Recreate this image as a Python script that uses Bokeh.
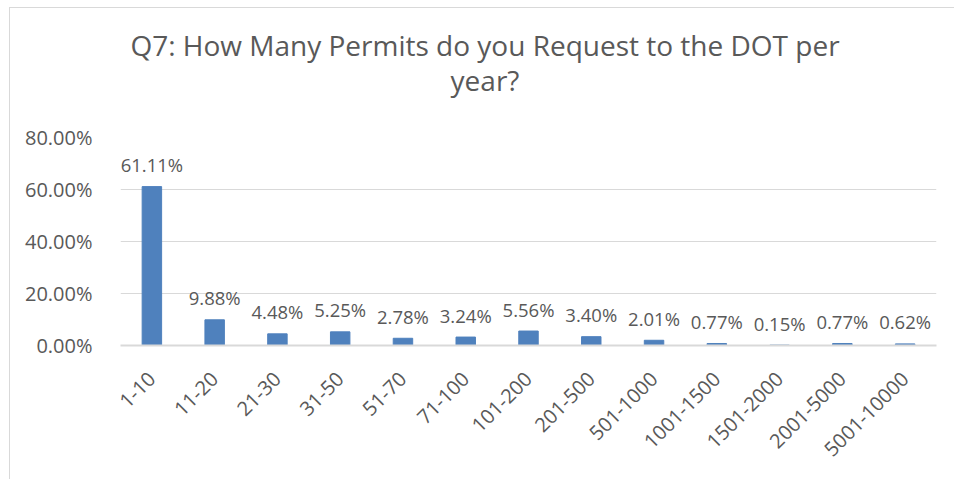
import math
from bokeh.plotting import figure
from bokeh.layouts import column
from bokeh.models import Range1d, FactorRange, Div, NumeralTickFormatter, ColumnDataSource, FixedTicker
from bokeh.core.properties import value
from bokeh.embed import file_html
from bokeh.resources import INLINE

categories = ["1-10", "11-20", "21-30", "31-50", "51-70", "71-100", "101-200",
              "201-500", "501-1000", "1001-1500", "1501-2000", "2001-5000", "5001-10000"]
shares = [61.11, 9.88, 4.48, 5.25, 2.78, 3.24, 5.56, 3.40, 2.01, 0.77, 0.15, 0.77, 0.62]
y_ticks = [0.0, 0.2, 0.4, 0.6, 0.8]
title_lines = ["Q7: How Many Permits do you Request to the DOT per", "year?"]

FONT = "Open Sans"
TXT = "#595959"
GRID = "#d9d9d9"
BAR = "#4F81BD"

src = ColumnDataSource(dict(
    cat=categories,
    val=[v / 100 for v in shares],
    lab=[f"{v:.2f}%" for v in shares],
))

title_div = Div(
    text="<br>".join(title_lines), width=944, height=100,
    styles={"font-family": "'Open Sans'", "font-size": "28px", "line-height": "35px",
            "color": TXT, "text-align": "center", "padding-top": "20px",
            "padding-left": "6px", "box-sizing": "border-box", "margin": "0"},
)

p = figure(width=944, height=371, output_backend="svg", toolbar_location=None, title=None,
           x_range=FactorRange(*categories), y_range=Range1d(0, 0.8),
           min_border_left=110, min_border_right=18, min_border_top=29, min_border_bottom=134)
p.outline_line_color = None

p.vbar(x="cat", top="val", width=0.31, source=src, fill_color=BAR, line_color=BAR)
p.text(x="cat", y="val", text="lab", source=src, text_align="center", text_baseline="middle",
       y_offset=-22, text_font=value(FONT), text_font_size="18.5px", text_color=TXT)

p.yaxis.ticker = FixedTicker(ticks=y_ticks)
p.yaxis.formatter = NumeralTickFormatter(format="0.00%")
p.yaxis.axis_line_color = None
p.yaxis.major_tick_line_color = None
p.yaxis.minor_tick_line_color = None
p.yaxis.major_label_standoff = 22
p.yaxis.major_label_text_font = FONT
p.yaxis.major_label_text_font_size = "20px"
p.yaxis.major_label_text_color = TXT

p.xaxis.axis_line_color = GRID
p.xaxis.axis_line_width = 2
p.xaxis.major_tick_line_color = None
p.xaxis.minor_tick_line_color = None
p.xaxis.major_label_orientation = math.pi / 4
p.xaxis.major_label_standoff = 24
p.xaxis.major_label_text_font = FONT
p.xaxis.major_label_text_font_size = "20px"
p.xaxis.major_label_text_color = TXT

p.xgrid.grid_line_color = None
p.ygrid.grid_line_color = GRID
p.ygrid.grid_line_width = 1

layout = column(title_div, p, spacing=0,
                styles={"margin-left": "9px", "margin-top": "7px",
                        "border-left": "1px solid #d9d9d9", "border-top": "1px solid #d9d9d9"})

open("out.html", "w").write(file_html(layout, INLINE))
